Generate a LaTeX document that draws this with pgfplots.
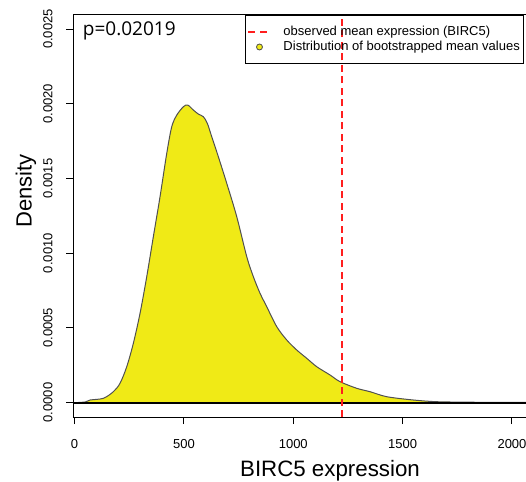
\documentclass[border=0pt]{standalone}
\usepackage{fontspec}
\setmainfont{Liberation Sans}
\newfontfamily\pfont{Open Sans}
\usepackage{pgfplots}
\pgfplotsset{compat=1.18}
\definecolor{densfill}{RGB}{240,234,22}
\definecolor{outline}{RGB}{80,80,80}
\definecolor{obsred}{RGB}{255,30,30}

\begin{document}
\begin{tikzpicture}
\begin{axis}[
  name=main,
  scale only axis, width=514pt, height=402pt,
  xmin=-7, xmax=2343, ymin=-0.000097, ymax=0.002594,
  axis line style={line width=1pt},
  tick align=outside, major tick length=7pt,
  tick style={black, line width=1pt},
  xtick pos=bottom, ytick pos=left,
  xtick={0,500,1000,1500,2000},
  xticklabels={0,500,1000,1500,2000},
  ytick={0,0.0005,0.001,0.0015,0.002,0.0025},
  yticklabels={0.0000,0.0005,0.0010,0.0015,0.0020,0.0025},
  scaled y ticks=false,
  xticklabel shift=14.5pt, yticklabel shift=13.5pt,
  xticklabel style={font=\fontsize{13}{15}\selectfont, inner sep=0pt,
    text height=9.3pt, text depth=0pt, anchor=north},
  yticklabel style={font=\fontsize{13}{15}\selectfont, inner sep=0pt,
    text height=9.3pt, text depth=0pt, rotate=90, anchor=south},
  xlabel={BIRC5 expression},
  xlabel style={at={(axis description cs:0.5,-0.1485)}, anchor=base,
    font=\fontsize{22.3}{26}\selectfont},
  ylabel={Density},
  ylabel style={at={(axis description cs:-0.0915,0.562)}, anchor=center,
    font=\fontsize{22}{26}\selectfont},
  legend style={at={(axis description cs:0.3346,1)}, anchor=north west,
    draw=black, line width=1pt, fill=none,
    font=\fontsize{13}{15}\selectfont,
    inner xsep=2pt, inner ysep=9pt, row sep=0pt,
    nodes={inner xsep=2pt, inner ysep=1.5pt, text height=9.5pt, text depth=2.5pt}},
  legend cell align=left,
]
\fill[black!3] (axis description cs:-0.136,0.415) rectangle (axis description cs:-0.080,0.597);

\addlegendimage{legend image code/.code={
  \path[draw=none, fill=none] (0pt,0pt) -- (33pt,0pt);
  \draw[obsred, line width=2pt, dash pattern=on 7pt off 5pt] (0pt,0pt) -- (20pt,0pt);}}
\addlegendentry{observed mean expression (BIRC5)}
\addlegendimage{legend image code/.code={
  \path[draw=none, fill=none] (0pt,0pt) -- (33pt,0pt);
  \draw[fill=densfill, draw=black!70, line width=0.8pt, solid] (11pt,0pt) circle (3pt);}}
\addlegendentry{Distribution of bootstrapped mean values}

\addplot[fill=densfill, draw=outline, line width=1pt, smooth, tension=0.5, forget plot] coordinates {
  (20,0.0000005) (50,0.000004) (70.9,0.0000167) (131.7,0.0000281)
  (177.4,0.0000723) (208.0,0.0001285) (238.7,0.0002396) (268.9,0.0003963)
  (299.5,0.0005971) (330.1,0.000842) (360.3,0.0011098) (390.9,0.0013775)
  (421.6,0.001668) (444.4,0.0018461) (467.3,0.0019237) (497.5,0.0019799)
  (517.6,0.0019913) (543.2,0.0019578) (566.1,0.001931) (588.9,0.001913)
  (607.2,0.0018688) (627.3,0.0017791) (657.5,0.0016452) (695.9,0.0014672)
  (741.7,0.0012436) (787.4,0.000976) (817.6,0.000842) (848.2,0.0007309)
  (878.8,0.0006412) (924.6,0.0005074) (970.3,0.0004183) (1016.0,0.0003514)
  (1061.7,0.0002958) (1107.5,0.0002396) (1168.3,0.0001841) (1214.0,0.0001392)
  (1290.4,0.000095) (1351.2,0.0000723) (1427.5,0.0000388) (1549.2,0.0000167)
  (1656.2,0.0000054) (1808.4,0.000002) (2000,0.0000005) (2300,0)
} \closedcycle;

\addplot[black, line width=2pt, forget plot] coordinates {(-7,0) (2343,0)};

\addplot[obsred, line width=2pt, dash pattern=on 7pt off 4.5pt, forget plot]
  coordinates {(1225,-0.000097) (1225,0.002594)};

\node[anchor=base west, inner sep=0pt, font=\pfont\fontsize{19}{22}\selectfont]
  at (axis description cs:0.0189,0.950) {p=0.02019};
\end{axis}
\pgfresetboundingbox
\path[use as bounding box] ([shift={(-73pt,-64pt)}]main.south west)
  rectangle ([shift={(453pt,417pt)}]main.south west);
\end{tikzpicture}
\end{document}
